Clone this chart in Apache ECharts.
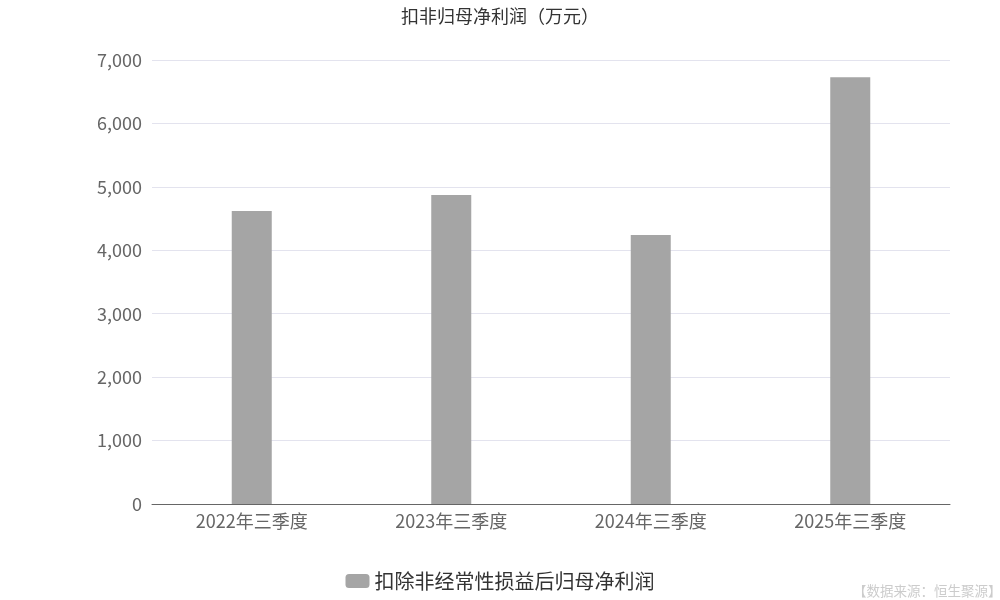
<!DOCTYPE html>
<html><head><meta charset="utf-8">
<script src="https://cdn.jsdelivr.net/npm/echarts@6/dist/echarts.min.js"></script>
<style>html,body{margin:0;padding:0;background:#fff}#c{width:1000px;height:600px}</style>
</head><body><div id="c"></div>
<script>
const categories = ['2022年三季度', '2023年三季度', '2024年三季度', '2025年三季度'];
const seriesName = '扣除非经常性损益后归母净利润';
const values = [4620, 4870, 4240, 6730];
const titleText = '扣非归母净利润（万元）';
const sourceText = '【数据来源：恒生聚源】';
const font = '"Noto Sans CJK SC", "Noto Sans", sans-serif';

const chart = echarts.init(document.getElementById('c'));
chart.setOption({
  backgroundColor: '#fff',
  title: { text: titleText, left: 'center', top: 2,
    textStyle: { fontFamily: font, fontSize: 18, fontWeight: 'normal', color: '#333' } },
  graphic: [{ type: 'text', left: 853, bottom: 2,
    style: { text: sourceText, fill: '#ccc', font: '13.5px ' + font } }],
  legend: { bottom: 4, left: 'center', itemWidth: 24, itemHeight: 14, icon: 'roundRect',
    textStyle: { fontFamily: font, fontSize: 20, color: '#333' } },
  grid: { left: 152, right: 50, top: 60, bottom: 96 },
  xAxis: { type: 'category', data: categories,
    axisLine: { lineStyle: { color: '#666' } },
    axisTick: { lineStyle: { color: '#666' } },
    axisLabel: { fontFamily: font, fontSize: 18, color: '#666', margin: 8 } },
  yAxis: { type: 'value', min: 0, max: 7000, interval: 1000,
    axisLabel: { fontFamily: font, fontSize: 18, color: '#666', margin: 10,
      formatter: v => v.toLocaleString('en-US') },
    splitLine: { lineStyle: { color: '#e3e3ee' } } },
  series: [{ name: seriesName, type: 'bar', data: values, barWidth: 40,
    itemStyle: { color: '#a5a5a5' } }]
});
</script></body></html>
